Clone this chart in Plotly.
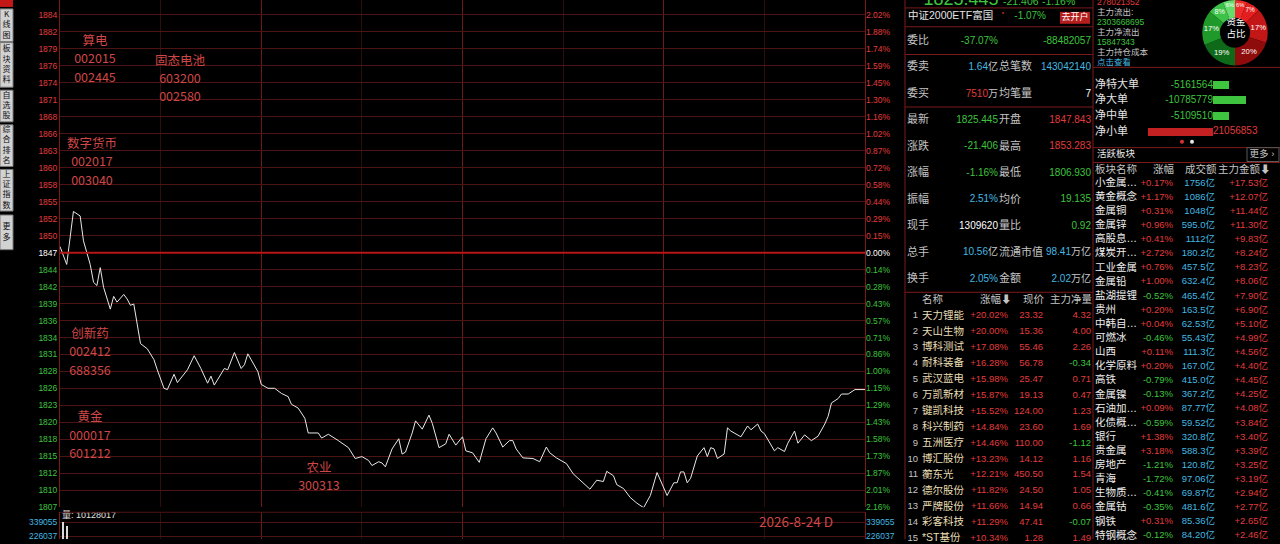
import plotly.graph_objects as go

W, H = 1280, 544
FONT = "Liberation Sans, Noto Sans CJK SC, sans-serif"
CJK = "Noto Sans CJK SC, sans-serif"

RED = "#e03c3c"
GREEN = "#3ec43e"
CYAN = "#44b8e0"
GREY = "#c4c4c4"
NOTE = "#cf4747"
GRID = "#4e1414"
GRID_HOUR = "#6e1a1a"
GRID_HALF = "#2e0e0e"
PANEL = "#7c1a1a"

# ---------------- intraday (minutes after open, lunch removed) ----------------
pre_close = 1846.851
minutes = [0, 2, 4, 6, 7, 9, 10, 11, 12, 13, 15, 16, 17, 19, 20, 21, 22, 23, 24, 26,
           28, 29, 31, 32, 34, 35, 37, 38, 40, 42, 44, 45, 46, 49, 50, 52, 54, 55, 56, 59,
           60, 62, 64, 66, 68, 69, 71, 73, 74, 77, 78, 80, 83, 84, 86, 88, 90, 92, 93, 95,
           96, 97, 99, 101, 102, 103, 105, 106, 108, 110, 111, 113, 115, 116, 118, 120, 121, 123, 125, 127,
           129, 130, 132, 134, 135, 136, 138, 141, 143, 145, 146, 148, 151, 153, 156, 158, 160, 162, 163, 165,
           166, 168, 170, 172, 174, 176, 178, 180, 181, 183, 184, 185, 186, 187, 188, 190, 192, 193, 194, 195,
           196, 198, 199, 200, 203, 205, 206, 208, 209, 210, 213, 214, 216, 217, 219, 220, 221, 222, 224, 226,
           228, 229, 230, 232, 233, 235, 237, 240]
price = [1847.8, 1845.0, 1853.3, 1852.6, 1848.7, 1845.0, 1842.2, 1841.7, 1844.5, 1841.4, 1838.0, 1840.0, 1839.1, 1840.3, 1839.6, 1838.6, 1838.8, 1836.0, 1832.6, 1831.8,
         1830.1, 1828.5, 1825.6, 1825.4, 1827.8, 1826.5, 1827.8, 1828.5, 1830.7, 1828.7, 1826.4, 1827.5, 1826.1, 1828.7, 1828.5, 1831.2, 1828.7, 1829.3, 1831.0, 1828.2,
         1826.2, 1825.6, 1825.6, 1824.8, 1824.3, 1823.1, 1822.5, 1820.9, 1818.6, 1818.6, 1817.8, 1818.4, 1817.4, 1817.0, 1816.3, 1814.6, 1814.9, 1814.3, 1813.5, 1814.1,
         1813.9, 1813.3, 1816.1, 1817.7, 1815.3, 1815.6, 1818.6, 1820.5, 1819.2, 1821.4, 1820.1, 1816.3, 1816.9, 1818.4, 1816.7, 1818.0, 1815.8, 1815.5, 1814.0, 1817.7,
         1819.4, 1818.6, 1816.4, 1817.4, 1817.4, 1816.1, 1814.7, 1814.6, 1814.1, 1816.4, 1815.5, 1814.7, 1813.8, 1812.2, 1810.7, 1809.8, 1811.2, 1811.0, 1812.6, 1811.9,
         1810.5, 1809.9, 1808.5, 1807.6, 1806.9, 1808.8, 1812.4, 1810.1, 1808.8, 1810.8, 1810.8, 1812.5, 1812.5, 1810.8, 1811.5, 1815.0, 1816.3, 1814.9, 1816.3, 1816.1,
         1814.6, 1815.3, 1819.4, 1818.9, 1818.0, 1819.7, 1819.1, 1820.0, 1818.9, 1818.5, 1815.8, 1816.3, 1815.7, 1817.0, 1818.9, 1817.0, 1817.7, 1818.3, 1817.4, 1818.1,
         1820.0, 1821.2, 1823.3, 1824.0, 1824.7, 1824.7, 1825.4, 1825.4]
vol_minutes = [1, 2, 3]
volume = [339055, 306800, 150000]
vol_total = "10128017"
vol_ticks = ["339055", "226037"]

price_ticks = ["1884", "1882", "1879", "1876", "1874", "1871", "1868", "1866", "1863", "1860",
               "1858", "1855", "1852", "1850", "1847", "1844", "1842", "1839", "1836", "1834",
               "1831", "1828", "1826", "1823", "1820", "1818", "1815", "1812", "1810", "1807"]
pct_ticks = ["2.02%", "1.88%", "1.74%", "1.59%", "1.45%", "1.30%", "1.16%", "1.02%", "0.87%", "0.72%",
             "0.58%", "0.44%", "0.29%", "0.15%", "0.00%", "0.14%", "0.28%", "0.43%", "0.57%", "0.71%",
             "0.86%", "1.00%", "1.15%", "1.29%", "1.43%", "1.58%", "1.73%", "1.87%", "2.01%", "2.16%"]
tick_steps = list(range(14, -16, -1))

note_titles = ["算电", "固态电池", "数字货币", "创新药", "黄金", "农业"]
note_codes = [["002015", "002445"], ["603200", "002580"], ["002017", "003040"],
              ["002412", "688356"], ["000017", "601212"], ["300313"]]
chart_date = "2026-8-24 D"

# ---------------- quote panel ----------------
quote_name = "中证2000ETF富国"
quote_etf_chg = "-1.07%"
last_price, last_chg, last_pct = "1825.445", "-21.406", "-1.16%"
quote_labels_l = ["委比", "委卖", "委买", "最新", "涨跌", "涨幅", "振幅", "现手", "总手", "换手"]
quote_values_l = ["-37.07%", "1.64亿", "7510万", "1825.445", "-21.406", "-1.16%", "2.51%", "1309620", "10.56亿", "2.05%"]
quote_labels_r = ["", "总笔数", "均笔量", "开盘", "最高", "最低", "均价", "量比", "流通市值", "金额"]
quote_values_r = ["-88482057", "143042140", "7", "1847.843", "1853.283", "1806.930", "19.135", "0.92", "98.41万亿", "2.02万亿"]
quote_colors_l = [GREEN, CYAN, RED, GREEN, GREEN, GREEN, CYAN, "#ffffff", CYAN, CYAN]
quote_colors_r = [GREEN, CYAN, "#ffffff", RED, RED, GREEN, GREEN, GREEN, CYAN, CYAN]

stock_names = ["天力锂能", "天山生物", "博科测试", "耐科装备", "武汉蓝电", "万凯新材", "键凯科技", "科兴制药",
               "五洲医疗", "博汇股份", "蘅东光", "德尔股份", "严牌股份", "彩客科技", "*ST基份"]
stock_chg = ["+20.02%", "+20.00%", "+17.08%", "+16.28%", "+15.98%", "+15.87%", "+15.52%", "+14.84%",
             "+14.46%", "+13.23%", "+12.21%", "+11.82%", "+11.66%", "+11.29%", "+10.34%"]
stock_price = ["23.32", "15.36", "55.46", "56.78", "25.47", "19.13", "124.00", "23.60",
               "110.00", "14.12", "450.50", "24.50", "14.94", "47.41", "1.28"]
stock_net = ["4.32", "4.00", "2.26", "-0.34", "0.71", "0.47", "1.23", "1.69",
             "-1.12", "1.16", "1.54", "1.05", "0.66", "-0.07", "1.49"]

# ---------------- fund flow panel ----------------
flow_info = ["278021352", "主力流出:", "2303668695", "主力净流出", "15847343", "主力持仓成本", "点击查看"]
flow_info_colors = [RED, GREY, GREEN, GREY, GREEN, GREY, CYAN]
share_labels = ["超大单流入", "大单流入", "中单流入", "小单流入", "小单流出", "中单流出", "大单流出", "超大单流出"]
share_pct = [6, 7, 17, 20, 19, 17, 8, 6]
share_colors = ["#ee2a2a", "#e41e1e", "#c31616", "#8e0c0c", "#0e6a18", "#1f9a2a", "#3cc246", "#66dc6c"]
net_labels = ["净特大单", "净大单", "净中单", "净小单"]
net_values = [-5161564, -10785779, -5109510, 21056853]

sector_names = ["小金属…", "黄金概念", "金属铜", "金属锌", "高股息…", "煤炭开…", "工业金属", "金属铅", "盐湖提锂",
                "贵州", "中韩自…", "可燃冰", "山西", "化学原料", "高铁", "金属镍", "石油加…", "化债概…", "银行",
                "贵金属", "房地产", "青海", "生物质…", "金属钴", "钢铁", "特钢概念"]
sector_chg = ["+0.17%", "+1.17%", "+0.31%", "+0.96%", "+0.41%", "+2.72%", "+0.76%", "+1.00%", "-0.52%",
              "+0.20%", "+0.04%", "-0.46%", "+0.11%", "+0.20%", "-0.79%", "-0.13%", "+0.09%", "-0.59%", "+1.38%",
              "+3.18%", "-1.21%", "-1.72%", "-0.41%", "-0.35%", "+0.31%", "-0.12%"]
sector_amt = ["1756亿", "1086亿", "1048亿", "595.0亿", "1112亿", "180.2亿", "457.5亿", "632.4亿", "465.4亿",
              "163.5亿", "62.53亿", "55.43亿", "111.3亿", "167.0亿", "415.0亿", "367.2亿", "87.77亿", "59.52亿", "320.8亿",
              "588.3亿", "120.8亿", "97.06亿", "69.87亿", "481.6亿", "85.36亿", "84.20亿"]
sector_net = ["+17.53亿", "+12.07亿", "+11.44亿", "+11.30亿", "+9.83亿", "+8.24亿", "+8.23亿", "+8.06亿", "+7.90亿",
              "+6.90亿", "+5.10亿", "+4.99亿", "+4.56亿", "+4.40亿", "+4.45亿", "+4.25亿", "+4.08亿", "+3.84亿", "+3.40亿",
              "+3.39亿", "+3.25亿", "+3.19亿", "+2.94亿", "+2.77亿", "+2.65亿", "+2.46亿"]

side_buttons = ["K<br>线<br>图", "板<br>块<br>资<br>料", "自<br>选<br>股", "综<br>合<br>排<br>名", "上<br>证<br>指<br>数", "更<br>多"]


def sign_color(s):
    return GREEN if s.startswith("-") else RED


def tint(s, c):
    return f"<span style='color:{c}'>{s}</span>"


def unit_split(s, c, unit_c=GREY):
    num = s.rstrip("万亿")
    unit = s[len(num):]
    return tint(num, c) + (tint(unit, unit_c) if unit else "")


fig = go.Figure()


def put(xs, ys, texts, colors, size, align="left", family=FONT):
    n = len(texts)
    if not isinstance(xs, (list, tuple)):
        xs = [xs] * n
    if not isinstance(ys, (list, tuple)):
        ys = [ys] * n
    if isinstance(colors, str):
        colors = [colors] * n
    pos = {"left": "middle right", "right": "middle left", "center": "middle center"}[align]
    fig.add_trace(go.Scatter(x=xs, y=ys, text=texts, mode="text", textposition=pos,
                             textfont=dict(size=size, color=colors, family=family),
                             xaxis="x4", yaxis="y6", hoverinfo="skip", showlegend=False, cliponaxis=False))


# ---------------- intraday chart ----------------
step = pre_close * 0.00144
tickvals = [pre_close + k * step for k in tick_steps]
tick_color = [RED if k > 0 else ("#ffffff" if k == 0 else GREEN) for k in tick_steps]

fig.add_trace(go.Scatter(x=minutes, y=price, mode="lines", line=dict(color="#e8e8e8", width=1),
                         xaxis="x", yaxis="y", hoverinfo="skip", showlegend=False))
fig.add_trace(go.Scatter(x=[None], y=[None], xaxis="x", yaxis="y2", showlegend=False))
fig.add_trace(go.Bar(x=vol_minutes, y=volume, width=0.35, marker=dict(color="#d8d8d8", line=dict(width=0)),
                     xaxis="x2", yaxis="y3", hoverinfo="skip", showlegend=False))
fig.add_trace(go.Scatter(x=[None], y=[None], xaxis="x2", yaxis="y4", showlegend=False))

vmax = max(volume)
vol_range = [vmax * (1 - 17 / 42), vmax * (1 + 10 / 42)]
vol_tickvals = [vmax, vmax * 2 / 3]

grid_x = dict(range=[0, 240], tickvals=[60, 120, 180], showticklabels=False, showgrid=True,
              gridcolor=GRID_HOUR, gridwidth=1, zeroline=False, showline=False, ticks="",
              minor=dict(tickvals=[30, 90, 150, 210], showgrid=True, gridcolor=GRID_HALF, gridwidth=1))

# ---------------- net flow bars ----------------
fig.add_trace(go.Bar(x=[-v for v in net_values], y=list(range(len(net_values))), orientation="h", width=0.52,
                     marker=dict(color=[GREEN if v < 0 else "#c42222" for v in net_values], line=dict(width=0)),
                     xaxis="x3", yaxis="y5", hoverinfo="skip", showlegend=False))
fig.add_trace(go.Scatter(x=[0] * len(net_values), y=list(range(len(net_values))), mode="text",
                         text=[str(v) for v in net_values],
                         textposition=["middle left" if v < 0 else "middle right" for v in net_values],
                         textfont=dict(size=10, family=FONT, color=[GREEN if v < 0 else RED for v in net_values]),
                         xaxis="x3", yaxis="y5", hoverinfo="skip", showlegend=False, cliponaxis=False))

# ---------------- fund share donut ----------------
fig.add_trace(go.Pie(labels=share_labels, values=share_pct, hole=0.46, sort=False, direction="clockwise",
                     rotation=0, marker=dict(colors=share_colors, line=dict(width=0)),
                     texttemplate="%{value}%", textposition="inside", insidetextorientation="horizontal",
                     textfont=dict(size=8, color="#ffffff", family=FONT),
                     domain=dict(x=[1199 / W, 1271 / W], y=[1 - 66 / H, 1]), showlegend=False, hoverinfo="skip"))

# ---------------- text: chart notes ----------------
note_pos = [(95, 42), (180, 62), (92, 146), (90, 338), (90, 422), (319, 473)]
for (nx, ny), title, codes in zip(note_pos, note_titles, note_codes):
    put(nx, [ny + 18.6 * i for i in range(len(codes) + 1)], [title] + codes, NOTE, 12.5, "center", CJK)
put(796, 528, [chart_date], NOTE, 13.5, "center", CJK)
put(62, 521, ["量: " + vol_total], "#e0e0e0", 9, "left")

# ---------------- text: quote panel ----------------
put(961, 0, [last_price], GREEN, 18, "center")
put(1003, 2, [last_chg], GREEN, 10.5, "left")
put(1042, 2, [last_pct], GREEN, 10.5, "left")
put(908, 17, [quote_name], "#e4e4e4", 10.5, "left")
put(1003, 13, ["●"], RED, 4, "center")
put(1046, 17, [quote_etf_chg], GREEN, 10, "right")
put(1075, 18, ["去开户"], "#ffffff", 9, "center")

qy = [41.5 + 26.7 * i for i in range(len(quote_labels_l))]
put(907, qy, quote_labels_l, GREY, 11, "left")
put(998, qy, [unit_split(v, c) for v, c in zip(quote_values_l, quote_colors_l)], quote_colors_l, 10, "right")
put(999, qy, quote_labels_r, GREY, 11, "left")
put(1091, qy, [unit_split(v, c) for v, c in zip(quote_values_r, quote_colors_r)], quote_colors_r, 10, "right")

# ---------------- text: stock list ----------------
sy = [319 + 16.05 * i for i in range(len(stock_names))]
put([922, 980, 1023, 1050], 303, ["名称", "涨幅⬇", "现价", "主力净量"], GREY, 10.5, "left")
put(918, sy, [str(i + 1) for i in range(len(stock_names))], GREY, 9.5, "right")
put(922, sy, stock_names, "#e8deb4", 10.5, "left")
put(1008, sy, stock_chg, [sign_color(s) for s in stock_chg], 9.5, "right")
put(1043, sy, stock_price, [sign_color(s) for s in stock_chg], 9.5, "right")
put(1091, sy, stock_net, [sign_color(s) for s in stock_net], 9.5, "right")

# ---------------- text: fund flow panel ----------------
put(1097, [3 + 10 * i for i in range(len(flow_info))], flow_info, flow_info_colors, 8.5, "left")
put(1236, 29, ["资金<br>占比"], "#ffffff", 9.5, "center", CJK)
ny_rows = [86 + 15.67 * i for i in range(len(net_labels))]
put(1095, ny_rows, net_labels, "#e4e4e4", 11, "left", CJK)
fig.add_trace(go.Scatter(x=[1182, 1192], y=[143, 143], mode="markers",
                         marker=dict(size=4, color=["#d83030", "#e8e8e8"]),
                         xaxis="x4", yaxis="y6", hoverinfo="skip", showlegend=False))

put(1097, 156, ["活跃板块"], "#e8e8e8", 9.5, "left")
put(1262, 156, ["更多 ›"], GREY, 9.5, "center")
put([1095, 1153, 1185, 1218], 172, ["板块名称", "涨幅", "成交额", "主力金额⬇"], GREY, 10.5, "left")
ry = [185 + 14.24 * i for i in range(len(sector_names))]
put(1095, ry, sector_names, "#eeeeee", 10.5, "left")
put(1173, ry, sector_chg, [sign_color(s) for s in sector_chg], 9.5, "right")
put(1215, ry, sector_amt, CYAN, 9.5, "right")
put(1268, ry, sector_net, [sign_color(s) for s in sector_net], 9.5, "right")

# ---------------- shapes ----------------
def hline(y, x0, x1, color=PANEL, w=1):
    return dict(type="line", xref="x4", yref="y6", x0=x0, x1=x1, y0=y, y1=y, line=dict(color=color, width=w))


def vline(x, y0, y1, color=PANEL, w=1):
    return dict(type="line", xref="x4", yref="y6", x0=x, x1=x, y0=y0, y1=y1, line=dict(color=color, width=w))


shapes = [
    dict(type="line", xref="x", yref="y", x0=0, x1=240, y0=pre_close, y1=pre_close,
         line=dict(color="#b81616", width=2)),
    hline(517, 60, 865, GRID),
    vline(905, 0, 544), vline(1093, 0, 544),
    hline(8, 905, 1093), hline(27, 905, 1093), hline(55, 905, 1093), hline(108, 905, 1093), hline(295, 905, 1093),
    hline(68, 1093, 1280), hline(149, 1093, 1280), hline(164, 1093, 1280),
    dict(type="rect", xref="x4", yref="y6", x0=1247, x1=1279, y0=149, y1=163, line=dict(color="#5a5a5a", width=1)),
    dict(type="rect", xref="x4", yref="y6", x0=1060, x1=1090, y0=12, y1=24, fillcolor="#b41e1e",
         line=dict(width=0), layer="below"),
    dict(type="rect", xref="x4", yref="y6", x0=0, x1=13, y0=0, y1=7, fillcolor="#c41818", line=dict(width=0),
         layer="below"),
]
button_spans = [(9, 42), (43, 88), (91, 123), (126, 168), (171, 213), (217, 252)]
for b0, b1 in button_spans:
    shapes.append(dict(type="rect", xref="x4", yref="y6", x0=0, x1=13, y0=b0, y1=b1, fillcolor="#d2d2d2",
                       line=dict(color="#7a7a7a", width=1), layer="below"))
put(6.5, [(b0 + b1) / 2 for b0, b1 in button_spans], side_buttons, "#101010", 8, "center", CJK)

fig.update_layout(
    width=W, height=H, margin=dict(l=0, r=0, t=0, b=0),
    paper_bgcolor="#000000", plot_bgcolor="rgba(0,0,0,0)",
    showlegend=False, hovermode=False, bargap=0,
    xaxis=dict(domain=[60 / W, 865 / W], anchor="y", **grid_x),
    yaxis=dict(domain=[1 - 512 / H, 1], anchor="x", range=[pre_close - 15 * step, pre_close + 14.88 * step],
               tickvals=tickvals, ticktext=[tint(t, c) for t, c in zip(price_ticks, tick_color)],
               tickfont=dict(size=8.5, family=FONT), showgrid=True, gridcolor=GRID, zeroline=False,
               showline=True, linecolor=PANEL, mirror=True, ticks=""),
    yaxis2=dict(overlaying="y", anchor="x", side="right", range=[pre_close - 15 * step, pre_close + 14.88 * step],
                tickvals=tickvals, ticktext=[tint(t, c) for t, c in zip(pct_ticks, tick_color)],
                tickfont=dict(size=8.5, family=FONT), showgrid=False, zeroline=False, ticks=""),
    xaxis2=dict(domain=[60 / W, 865 / W], anchor="y3", **grid_x),
    yaxis3=dict(domain=[0, 1 - 517 / H], anchor="x2", range=vol_range, tickvals=vol_tickvals,
                ticktext=[tint(t, CYAN) for t in vol_ticks], tickfont=dict(size=8.5, family=FONT),
                showgrid=True, gridcolor=GRID, zeroline=False, showline=True, linecolor=PANEL, mirror=True, ticks=""),
    yaxis4=dict(overlaying="y3", anchor="x2", side="right", range=vol_range, tickvals=vol_tickvals,
                ticktext=[tint(t, CYAN) for t in vol_ticks], tickfont=dict(size=8.5, family=FONT),
                showgrid=False, zeroline=False, ticks=""),
    xaxis3=dict(domain=[1140 / W, 1], anchor="y5", range=[-73 / 3.09e-6, 67 / 3.09e-6], visible=False),
    yaxis5=dict(domain=[1 - 141 / H, 1 - 78 / H], anchor="x3", range=[3.5, -0.5], visible=False),
    xaxis4=dict(domain=[0, 1], anchor="y6", range=[0, W], visible=False),
    yaxis6=dict(domain=[0, 1], anchor="x4", range=[H, 0], visible=False),
    shapes=shapes,
)

# fit the figure to the browser viewport exactly (no body margin, no scrollbars)
fit_js = ("document.documentElement.style.overflow='hidden';"
          "document.body.style.margin='0';document.body.style.overflow='hidden';"
          "var gd=document.getElementById('{plot_id}');"
          "Plotly.relayout(gd,{width:window.innerWidth,height:window.innerHeight});")
fig.write_html("out.html", config={"displayModeBar": False}, post_script=fit_js)
